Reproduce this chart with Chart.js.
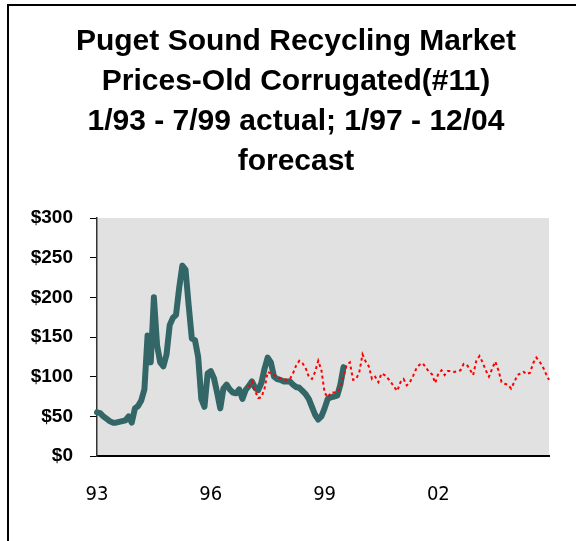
<!DOCTYPE html>
<html>
<head>
<meta charset="utf-8">
<script src="https://cdn.jsdelivr.net/npm/chart.js@4/dist/chart.umd.min.js"></script>
<style>
  html, body { margin: 0; padding: 0; background: #fff; }
  #wrap { position: relative; width: 576px; height: 541px; overflow: hidden; }
  #frame { position: absolute; left: 7px; top: 4px; width: 700px; height: 700px;
           border-left: 2px solid #000; border-top: 2px solid #000; pointer-events: none; }
  canvas { position: absolute; left: 0; top: 0; }
</style>
</head>
<body>
<div id="wrap">
  <canvas id="c" width="576" height="541"></canvas>
  <div id="frame"></div>
</div>
<script>
// ---- data ----
const titleLines = [
  "Puget Sound Recycling Market",
  "Prices-Old Corrugated(#11)",
  "1/93 - 7/99 actual; 1/97 - 12/04",
  "forecast"
];
const years = ["93","94","95","96","97","98","99","00","01","02","03","04"];
const tickLabels = ["93","96","99","02"];
const yTicks = [0, 50, 100, 150, 200, 250, 300];

// actual: monthly, 1/93 .. 7/99
const actualStart = 0;
const actual = [
  55,54,50,47,44,42,42,43,44,45,
  50,42,60,63,70,84,152,118,200,140,
  118,113,128,165,174,178,212,240,235,190,
  148,146,125,72,62,104,107,98,80,60,
  85,90,84,80,79,84,72,83,88,94,
  86,83,92,110,124,118,100,97,96,94,
  94,94,90,87,86,82,78,72,62,52,
  46,50,60,72,74,75,76,90,112
];
// forecast: monthly, 1/97 .. 12/04
const forecastStart = 48;
const forecast = [
  87,94,82,73,74,85,106,104,102,100,
  98,97,96,97,104,114,120,117,111,100,
  97,106,120,108,80,74,80,80,81,86,
  100,115,118,96,97,106,128,119,113,97,
  100,93,104,102,98,93,87,82,93,97,
  89,93,101,110,115,117,112,106,103,92,
  104,108,102,107,107,106,107,108,116,115,
  109,102,120,126,118,108,100,110,119,108,
  93,91,90,85,93,102,104,106,103,105,
  117,124,119,113,104,96
];

// ---- build table ----
const months = [];
years.forEach(y => { for (let m = 1; m <= 12; m++) months.push(m + "/" + y); });
const place = (arr, start) => months.map((_, i) =>
  (i >= start && i < start + arr.length) ? arr[i - start] : null);

const plotBg = {
  id: 'plotBg',
  afterLayout(chart) {
    // title is centred a little right of the canvas centre
    if (chart.titleBlock) chart.titleBlock.left = 36;
  },
  beforeDraw(chart) {
    const { ctx, chartArea: a } = chart;
    ctx.save();
    ctx.fillStyle = '#E1E1E1';
    ctx.fillRect(a.left, a.top, a.right - a.left, a.bottom - a.top);
    ctx.restore();
  }
};

new Chart(document.getElementById('c'), {
  type: 'line',
  data: {
    labels: months,
    datasets: [
      {
        label: 'forecast',
        data: place(forecast, forecastStart),
        borderColor: '#FF0000',
        borderWidth: 2,
        borderDash: [3, 3],
        pointRadius: 0,
        tension: 0,
        order: 0
      },
      {
        label: 'actual',
        data: place(actual, actualStart),
        borderColor: '#336666',
        borderWidth: 6,
        borderJoinStyle: 'round',
        borderCapStyle: 'round',
        pointRadius: 0,
        tension: 0,
        order: 1
      }
    ]
  },
  options: {
    responsive: false,
    animation: false,
    layout: { padding: { left: 0, right: 20, top: 0, bottom: 0 } },
    plugins: {
      legend: { display: false },
      tooltip: { enabled: false },
      title: {
        display: true,
        text: titleLines,
        color: '#000',
        font: { family: "'Liberation Sans', Arial, sans-serif", size: 30, weight: 'bold', lineHeight: 40 / 30 },
        padding: { top: 22, bottom: 36 }
      }
    },
    scales: {
      x: {
        type: 'category',
        offset: false,
        grid: { display: false, drawTicks: false },
        border: { display: true, color: '#000', width: 2 },
        ticks: {
          autoSkip: false,
          maxRotation: 0,
          minRotation: 0,
          padding: 27,
          color: '#000',
          font: { family: "'Liberation Sans Narrow', 'DejaVu Sans Condensed', 'Liberation Sans', sans-serif", size: 20 },
          callback: (v, i) => (i % 36 === 0 ? tickLabels[i / 36] : '')
        },
        afterFit: s => { s.height = 85; }
      },
      y: {
        min: yTicks[0],
        max: yTicks[yTicks.length - 1],
        afterBuildTicks: s => { s.ticks = yTicks.map(v => ({ value: v })); },
        grid: { drawOnChartArea: false, drawTicks: true, tickLength: 7, color: '#000' },
        border: { display: true, color: '#333', width: 1.5 },
        ticks: {
          padding: 17,
          color: '#000',
          font: { family: "'Liberation Sans', Arial, sans-serif", size: 19, weight: 'bold' },
          callback: v => '$' + v
        },
        afterFit: s => { s.width = 97; }
      }
    }
  },
  plugins: [plotBg]
});
</script>
</body>
</html>
